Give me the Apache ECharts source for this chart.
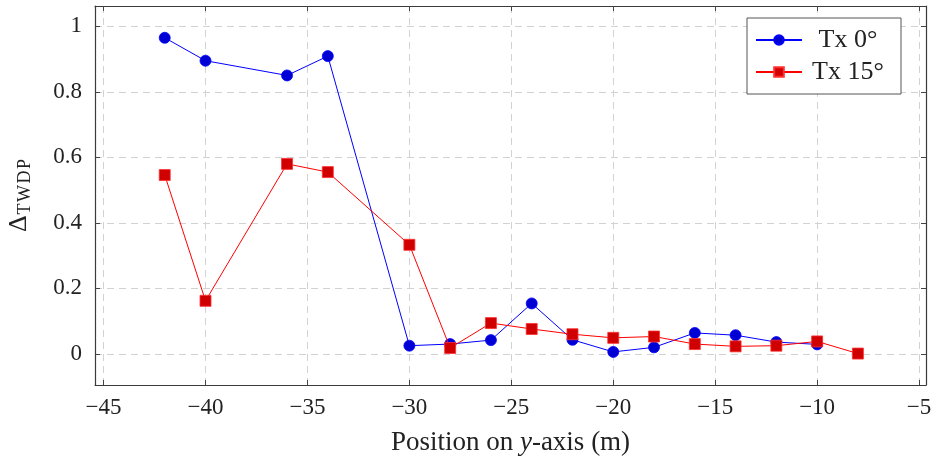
<!DOCTYPE html>
<html><head><meta charset="utf-8">
<script src="https://cdn.jsdelivr.net/npm/echarts@6/dist/echarts.min.js"></script>
<style>html,body{margin:0;padding:0;background:#fff}#c{width:938px;height:461px}</style>
</head><body><div id="c"></div>
<script>
var positions = [-42, -40, -36, -34, -30, -28, -26, -24, -22, -20, -18, -16, -14, -12, -10];
var tx0 = [0.965, 0.895, 0.850, 0.909, 0.025, 0.030, 0.042, 0.154, 0.043, 0.006, 0.020, 0.064, 0.057, 0.036, 0.029];
var positions15 = [-42, -40, -36, -34, -30, -28, -26, -24, -22, -20, -18, -16, -14, -12, -10, -8];
var tx15 = [0.546, 0.162, 0.580, 0.555, 0.333, 0.018, 0.094, 0.076, 0.060, 0.049, 0.053, 0.030, 0.023, 0.025, 0.038, 0.001];
var xTicks = [-45, -40, -35, -30, -25, -20, -15, -10, -5];
var yTicks = [0, 0.2, 0.4, 0.6, 0.8, 1];
var seriesNames = ['Tx 0°', 'Tx 15°'];

var FONT = '"Liberation Serif", "DejaVu Serif", serif';
var chart = echarts.init(document.getElementById('c'), null, {renderer: 'canvas'});
function pairs(xs, ys) { return xs.map(function (x, i) { return [x, ys[i]]; }); }
var gridLine = {show: true, lineStyle: {color: '#d2d2d2', type: [7, 5], width: 1}};
var axLine = {show: true, onZero: false, lineStyle: {color: '#3a3a3a', width: 1.2}};
var xMin = -45.42, xMax = -4.66, yMin = -0.095, yMax = 1.062;
function fmt(v) { var s = String(Math.round(v * 10) / 10); return s.replace('-', '\u2212'); }
var option = {
  animation: false,
  backgroundColor: '#fff',
  grid: {left: 95, right: 12, top: 6, bottom: 76, containLabel: false, outerBoundsMode: 'none'},
  legend: {
    orient: 'vertical', left: 747, top: 18,
    backgroundColor: '#fff', borderColor: '#555', borderWidth: 1,
    padding: [9, 12, 9, 8], itemGap: 6, itemWidth: 46, itemHeight: 12,
    formatter: '{c|{name}}',
    textStyle: {fontFamily: FONT, fontSize: 26, color: '#222', lineHeight: 26,
      rich: {c: {fontFamily: FONT, fontSize: 26, color: '#222', width: 82, align: 'center', lineHeight: 26}}},
    data: seriesNames
  },
  xAxis: [{
    type: 'value', min: xMin, max: xMax, position: 'bottom',
    name: 'Position on {i|y}-axis (m)', nameLocation: 'middle', nameGap: 44,
    nameTextStyle: {fontFamily: FONT, fontSize: 27, color: '#222',
      rich: {i: {fontFamily: FONT, fontSize: 27, fontStyle: 'italic', color: '#222'}}},
    axisLine: axLine,
    axisTick: {show: true, inside: true, length: 5, customValues: xTicks, lineStyle: {color: '#444'}},
    axisLabel: {customValues: xTicks, formatter: fmt, fontFamily: FONT, fontSize: 23, color: '#222', margin: 11},
    splitLine: gridLine
  }, {
    type: 'value', min: xMin, max: xMax, position: 'top',
    axisLine: axLine,
    axisTick: {show: true, inside: true, length: 5, customValues: xTicks, lineStyle: {color: '#444'}},
    axisLabel: {show: false}, splitLine: {show: false}
  }],
  yAxis: [{
    type: 'value', min: yMin, max: yMax, position: 'left',
    name: '\u0394{s|T\u200aW\u200aD\u200aP}', nameLocation: 'middle', nameGap: 61, nameRotate: 90,
    nameTextStyle: {fontFamily: FONT, fontSize: 26, color: '#222',
      rich: {s: {fontFamily: FONT, fontSize: 18, color: '#222', padding: [11, 0, 0, 1]}}},
    axisLine: axLine,
    axisTick: {show: true, inside: true, length: 5, customValues: yTicks, lineStyle: {color: '#444'}},
    axisLabel: {customValues: yTicks, formatter: fmt, fontFamily: FONT, fontSize: 23, color: '#222', margin: 13},
    splitLine: gridLine
  }, {
    type: 'value', min: yMin, max: yMax, position: 'right',
    axisLine: axLine,
    axisTick: {show: true, inside: true, length: 5, customValues: yTicks, lineStyle: {color: '#444'}},
    axisLabel: {show: false}, splitLine: {show: false}
  }],
  series: [{
    name: seriesNames[0], type: 'line', data: pairs(positions, tx0),
    symbol: 'circle', symbolSize: 11, showSymbol: true,
    lineStyle: {color: '#0000ff', width: 1},
    itemStyle: {color: '#0000d4', borderColor: '#0000ff', borderWidth: 0.8},
    z: 3
  }, {
    name: seriesNames[1], type: 'line', data: pairs(positions15, tx15),
    symbol: 'rect', symbolSize: 11, showSymbol: true,
    lineStyle: {color: '#ff0000', width: 1},
    itemStyle: {color: '#d00000', borderColor: '#ff3030', borderWidth: 0.8},
    z: 4
  }]
};
chart.setOption(option);
</script></body></html>
